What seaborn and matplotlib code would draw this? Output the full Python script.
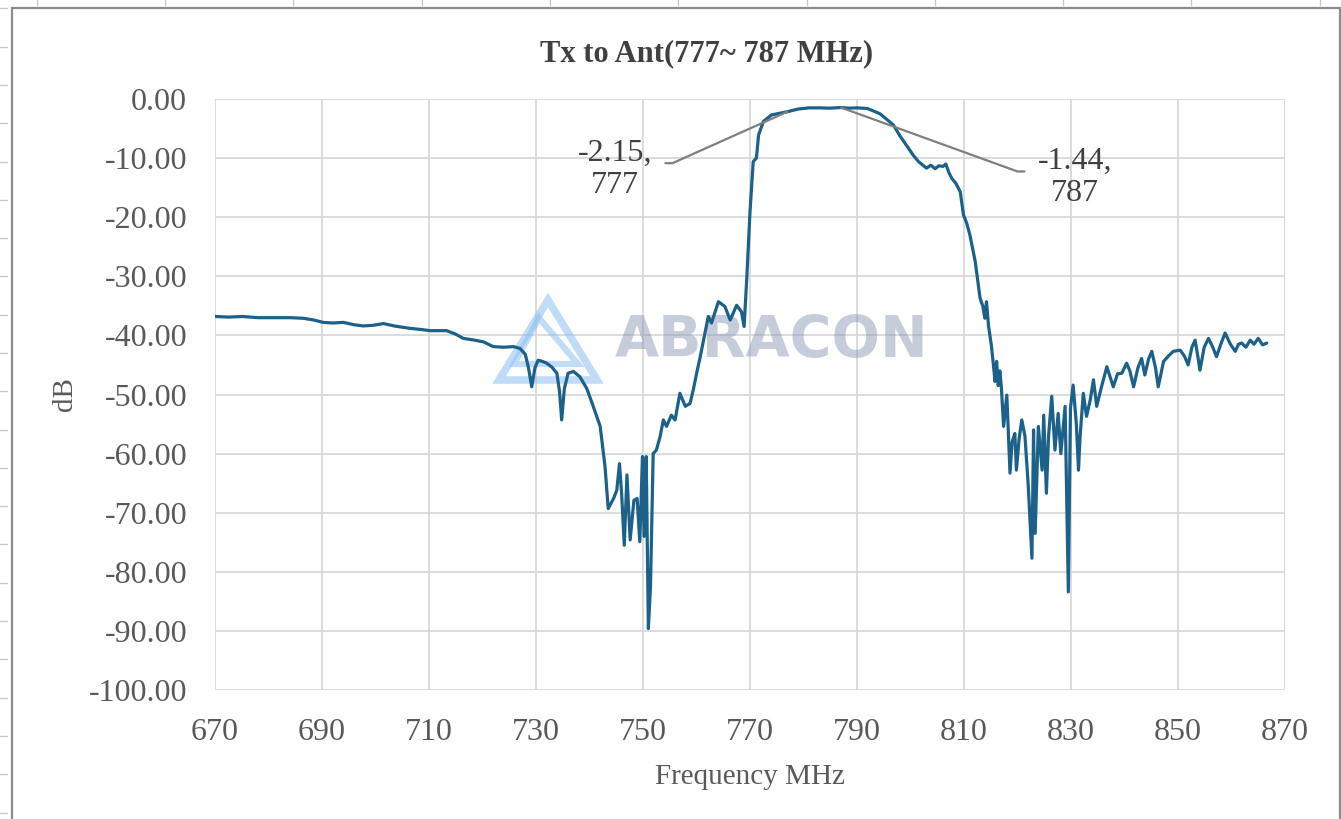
import matplotlib
matplotlib.use("Agg")
import matplotlib.pyplot as plt
from matplotlib.patches import Polygon, Rectangle
from matplotlib.lines import Line2D
import pandas as pd
import seaborn as sns

# ---------------- data ----------------
freq_mhz = [
    670.0, 672.5, 675.2, 678.0, 681.0, 684.0, 686.5, 688.5, 690.2, 692.0,
    694.0, 696.0, 697.7, 699.5, 701.5, 703.5, 706.4, 708.5, 710.2, 712.0,
    713.3, 715.0, 716.4, 718.5, 720.2, 722.0, 724.0, 725.8, 727.0, 728.0,
    728.6, 729.2, 729.8, 730.4, 731.2, 732.0, 733.0, 733.9, 734.4, 734.8,
    735.3, 736.0, 737.0, 738.2, 739.5, 740.5, 742.0, 742.9, 743.5, 744.5,
    745.1, 745.6, 746.0, 746.5, 747.0, 747.6, 748.3, 748.9, 749.4, 749.9,
    750.2, 750.6, 751.0, 751.4, 751.9, 752.5, 753.2, 753.8, 754.4, 755.3,
    756.0, 756.9, 757.9, 758.8, 759.4, 760.0, 760.7, 761.5, 762.2, 762.8,
    764.1, 765.3, 766.3, 767.5, 768.4, 768.9, 769.4, 770.0, 770.6, 771.2,
    771.6, 772.5, 774.0, 775.6, 777.0, 779.0, 781.0, 783.0, 785.0, 787.0,
    788.5, 790.0, 791.9, 793.0, 794.3, 795.5, 796.8, 798.0, 799.2, 800.5,
    801.5, 803.0, 803.8, 804.6, 805.3, 806.1, 806.6, 807.2, 807.7, 808.5,
    809.3, 809.9, 810.5, 811.1, 812.1, 813.0, 813.5, 813.9, 814.2, 814.6,
    815.1, 815.5, 815.8, 816.1, 816.4, 816.7, 817.0, 817.4, 818.0, 818.6,
    819.0, 819.5, 819.8, 820.3, 820.8, 821.4, 822.0, 822.7, 823.0, 823.3,
    823.9, 824.6, 824.9, 825.4, 825.8, 826.4, 827.0, 827.6, 828.1, 828.9,
    829.5, 829.9, 830.4, 831.0, 831.4, 831.7, 832.3, 832.9, 833.6, 834.2,
    834.8, 835.7, 836.7, 837.3, 837.9, 838.7, 839.5, 840.4, 841.0, 841.7,
    842.5, 843.2, 843.8, 844.5, 845.1, 845.8, 846.3, 847.3, 848.2, 849.1,
    850.4, 851.2, 851.9, 852.6, 853.2, 853.7, 854.1, 854.9, 855.7, 856.5,
    857.2, 858.0, 858.8, 859.8, 860.7, 861.3, 861.9, 862.7, 863.5, 864.2,
    865.0, 865.8, 866.6,
]
s21_db = [
    -36.8, -36.9, -36.8, -37.0, -37.0, -37.0, -37.1, -37.4, -37.8, -37.9,
    -37.8, -38.2, -38.4, -38.3, -38.0, -38.4, -38.8, -39.0, -39.2, -39.2,
    -39.2, -39.8, -40.5, -40.8, -41.1, -41.9, -42.0, -41.9, -42.2, -43.2,
    -45.5, -48.7, -45.5, -44.2, -44.4, -44.7, -45.4, -46.4, -49.5, -54.3,
    -49.0, -46.4, -46.1, -47.0, -49.0, -51.5, -55.4, -62.2, -69.3, -67.6,
    -66.2, -61.7, -66.7, -75.5, -63.6, -74.6, -67.9, -67.6, -74.9, -60.5,
    -74.0, -60.5, -89.6, -82.5, -60.0, -59.4, -57.1, -54.3, -55.4, -53.5,
    -54.3, -49.8, -52.0, -51.5, -49.2, -46.5, -43.6, -40.0, -36.8, -37.9,
    -34.3, -35.1, -37.4, -34.9, -36.0, -38.5, -30.3, -19.1, -10.6, -10.0,
    -6.1, -3.8, -2.7, -2.4, -2.15, -1.7, -1.5, -1.5, -1.55, -1.44,
    -1.55, -1.5, -1.6, -2.0, -2.5, -3.4, -4.4, -6.2, -7.8, -9.5,
    -10.6, -11.7, -11.2, -11.8, -11.3, -11.4, -11.0, -12.5, -13.4, -14.3,
    -15.7, -19.6, -21.0, -23.0, -27.5, -33.7, -35.0, -37.1, -34.3, -38.5,
    -41.6, -45.0, -47.8, -44.4, -48.5, -46.0, -49.0, -55.4, -50.1, -63.3,
    -58.0, -56.6, -62.8, -57.5, -54.3, -57.1, -65.3, -77.7, -56.0, -73.5,
    -55.4, -62.8, -53.5, -66.7, -57.1, -50.3, -59.4, -53.2, -60.0, -52.0,
    -83.4, -52.3, -48.4, -55.0, -62.8, -57.1, -49.8, -53.7, -50.9, -47.5,
    -52.0, -48.7, -45.3, -47.0, -48.7, -46.5, -46.4, -44.7, -46.0, -48.7,
    -45.5, -43.9, -46.7, -44.0, -42.7, -45.5, -48.7, -44.4, -43.5, -42.7,
    -42.5, -43.5, -45.0, -42.0, -40.8, -43.5, -45.9, -42.0, -40.5, -42.0,
    -43.6, -41.5, -39.6, -41.5, -42.7, -41.5, -41.3, -42.0, -40.8, -41.5,
    -40.5, -41.6, -41.3,
]

title_text = "Tx to Ant(777~ 787 MHz)"
x_label = "Frequency MHz"
y_label = "dB"
x_ticks = list(range(670, 871, 20))
y_ticks = list(range(0, -101, -10))
marker_freqs = [777, 787]
marker_values = [-2.15, -1.44]
marker_labels = ["-2.15,\n777", "-1.44,\n787"]

# ---------------- styling ----------------
sns.set_theme(style="white")
plt.rcParams["font.family"] = ["Liberation Serif", "DejaVu Serif"]
plt.rcParams["axes.unicode_minus"] = False

W, H = 1341, 819
fig = plt.figure(figsize=(W / 100, H / 100), dpi=100)
fig.patch.set_facecolor("white")
ax = fig.add_axes([215 / W, 1 - 690 / H, (1285 - 215) / W, (690 - 99) / H])

df = pd.DataFrame({"freq": freq_mhz, "db": s21_db})
sns.lineplot(data=df, x="freq", y="db", ax=ax, color="#1c6189",
             linewidth=2.3, sort=False, estimator=None, zorder=5)

ax.set_xlim(670, 870)
ax.set_ylim(-100, 0)
ax.set_xticks(x_ticks)
ax.set_yticks(y_ticks)
ax.set_xticklabels([str(t) for t in x_ticks])
ax.set_yticklabels([f"{t:.2f}" for t in y_ticks])
ax.tick_params(axis="both", length=0, labelsize=23, labelcolor="#595959")
ax.tick_params(axis="y", pad=20)
ax.tick_params(axis="x", pad=20)
ax.grid(True, color="#d9d9d9", linewidth=1.3)
ax.set_axisbelow(True)
for s in ax.spines.values():
    s.set_visible(False)

ax.set_title(title_text, fontsize=22, fontweight="bold", color="#404040",
             x=0.459, y=1.05)
ax.set_xlabel(x_label, fontsize=21, color="#595959")
ax.set_ylabel(y_label, fontsize=21, color="#595959")
ax.xaxis.set_label_coords(0.5, -0.125)
ax.yaxis.set_label_coords(-0.128, 0.5)

# data callouts
text_pos = [(744.8, -11.9), (830.7, -13.3)]
rel = [(1.0, 0.6), (0.0, 0.6)]
angA = [0, 180]
for fx, vy, lab, tp, rp, aa in zip(marker_freqs, marker_values, marker_labels,
                                   text_pos, rel, angA):
    ax.annotate(lab, xy=(fx, vy), xytext=tp, textcoords="data",
                ha="center", va="center", fontsize=23, color="#404040",
                linespacing=1.15, zorder=6,
                arrowprops=dict(arrowstyle="-", color="#7f7f7f", lw=1.6,
                                relpos=rp, shrinkA=7, shrinkB=0,
                                connectionstyle=f"arc,angleA={aa},armA=20,angleB=0,armB=0,rad=0"))

# watermark (behind the trace)
def fp(px, py):
    return (px / W, 1 - py / H)

ax.text(*fp(772, 341), "ABRACON", transform=fig.transFigure, ha="center",
        va="center", fontsize=41, fontweight="bold", family="DejaVu Sans",
        color="#8e9ab5", alpha=0.5, zorder=2)
outer = [fp(548, 300), fp(499, 380), fp(597, 380)]
inner = [fp(539, 318), fp(514, 364), fp(578, 364)]
ax.add_patch(Polygon(outer, closed=True, fill=False, transform=fig.transFigure,
                     edgecolor="#8ec0f0", lw=5.5, alpha=0.55, zorder=2,
                     clip_on=False, joinstyle="miter"))
ax.add_patch(Polygon(inner, closed=True, fill=False, transform=fig.transFigure,
                     edgecolor="#8ec0f0", lw=4.5, alpha=0.55, zorder=2,
                     clip_on=False, joinstyle="miter"))

# chart-area frame and spreadsheet tick marks
fig.add_artist(Rectangle((12 / W, -0.05), (1340 - 12) / W, 1 - 8 / H + 0.05,
                         transform=fig.transFigure, fill=False,
                         edgecolor="#8c8c8c", lw=1.6))
k = 0
while 36.7 + 128.3 * k < W:
    xx = (36.7 + 128.3 * k) / W
    fig.add_artist(Line2D([xx, xx], [1, 1 - 5 / H], color="#c8c8c8", lw=1))
    k += 1
k = 0
while 8.3 + 38.3 * k < H:
    yy = 1 - (8.3 + 38.3 * k) / H
    fig.add_artist(Line2D([0, 7 / W], [yy, yy], color="#c8c8c8", lw=1))
    k += 1

fig.savefig("out.png", dpi=100, facecolor="white")
